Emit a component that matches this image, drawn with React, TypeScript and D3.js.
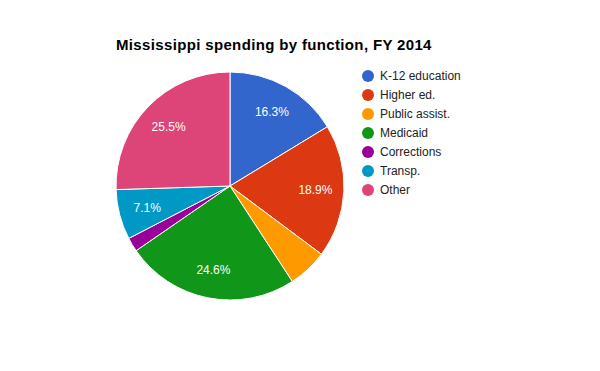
import { useEffect, useRef } from "react";
import * as d3 from "d3";

const categories = ["K-12 education", "Higher ed.", "Public assist.", "Medicaid", "Corrections", "Transp.", "Other"];
const shares = [16.3, 18.9, 5.6, 24.6, 2.0, 7.1, 25.5];
const colors = ["#3366cc", "#dc3912", "#ff9900", "#109618", "#990099", "#0099c6", "#dd4477"];
const shownLabels = [true, true, false, true, false, true, true];

export default function App() {
  const svgRef = useRef<SVGSVGElement>(null);

  useEffect(() => {
    if (!svgRef.current) return;
    const width = 600;
    const height = 371;
    const cx = 230;
    const cy = 186;
    const radius = 114;

    const svg = d3.select(svgRef.current);
    svg.selectAll("*").remove();
    svg.attr("viewBox", `0 0 ${width} ${height}`);

    svg.append("rect").attr("width", width).attr("height", height).attr("fill", "#fff");

    svg.append("text")
      .attr("x", 116)
      .attr("y", 50)
      .attr("font-family", "Arial, 'Liberation Sans', sans-serif")
      .attr("font-size", 15)
      .attr("font-weight", "bold")
      .attr("letter-spacing", 0.35)
      .attr("fill", "#000")
      .text("Mississippi spending by function, FY 2014");

    const pie = d3.pie<number>().sort(null).value((d) => d)(shares);
    const arc = d3.arc<d3.PieArcDatum<number>>().innerRadius(0).outerRadius(radius);
    const labelArc = d3.arc<d3.PieArcDatum<number>>().innerRadius(radius * 0.75).outerRadius(radius * 0.75);

    const g = svg.append("g").attr("transform", `translate(${cx},${cy})`);

    g.selectAll("path")
      .data(pie)
      .enter()
      .append("path")
      .attr("d", arc as any)
      .attr("fill", (d, i) => colors[i])
      .attr("stroke", "#fff")
      .attr("stroke-width", 1);

    g.selectAll("text")
      .data(pie.filter((d, i) => shownLabels[i]))
      .enter()
      .append("text")
      .attr("transform", (d) => `translate(${labelArc.centroid(d)})`)
      .attr("text-anchor", "middle")
      .attr("dy", "0.35em")
      .attr("font-family", "Arial, 'Liberation Sans', sans-serif")
      .attr("font-size", 12)
      .attr("fill", "#fff")
      .text((d) => `${d.data.toFixed(1)}%`);

    // legend
    const legend = svg.append("g").attr("transform", "translate(368,76)");
    const items = legend.selectAll("g")
      .data(categories)
      .enter()
      .append("g")
      .attr("transform", (d, i) => `translate(0,${i * 19})`);
    items.append("circle").attr("r", 6).attr("fill", (d, i) => colors[i]);
    items.append("text")
      .attr("x", 12)
      .attr("dy", "0.35em")
      .attr("font-family", "Arial, 'Liberation Sans', sans-serif")
      .attr("font-size", 12)
      .attr("fill", "#222")
      .text((d) => d);
  }, []);

  return (
    <div style={{ margin: -8 }}>
      <svg ref={svgRef} width={600} height={371} style={{ display: "block" }} />
    </div>
  );
}
